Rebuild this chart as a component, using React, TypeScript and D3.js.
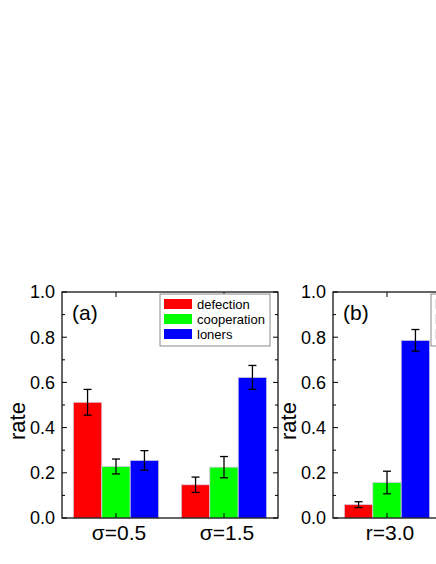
import React, { useRef, useEffect } from "react";
import * as d3 from "d3";

// values
const seriesNames = ["defection", "cooperation", "loners"];
const seriesColors = ["#ff0000", "#00ff00", "#0000ff"];

const categoriesA = ["σ=0.5", "σ=1.5"];
const defectionA = [0.512, 0.147];
const cooperationA = [0.228, 0.225];
const lonersA = [0.255, 0.622];
const defectionErrA = [0.057, 0.034];
const cooperationErrA = [0.033, 0.047];
const lonersErrA = [0.043, 0.053];

const categoriesB = ["r=3.0"];
const defectionB = [0.059];
const cooperationB = [0.157];
const lonersB = [0.786];
const defectionErrB = [0.013];
const cooperationErrB = [0.05];
const lonersErrB = [0.048];

const yTicks = [0, 0.2, 0.4, 0.6, 0.8, 1.0];
const yMinorTicks = [0.1, 0.3, 0.5, 0.7, 0.9];

const FONT = "'Liberation Sans', Arial, sans-serif";

const App = () => {
  const svgRef = useRef(null);

  useEffect(() => {
    const svg = d3.select(svgRef.current);
    svg.selectAll("*").remove();

    const top = 292;
    const bottom = 518;
    const plotW = 216;

    const y = d3.scaleLinear().domain([0, 1]).range([bottom, top]);

    const drawPanel = (opts) => {
      const { left, tag, categories, values, errors, faded } = opts;
      const g = svg.append("g");

      // two group slots per panel
      const x = d3
        .scaleBand()
        .domain(d3.range(2))
        .range([left, left + plotW])
        .paddingInner(0.21)
        .paddingOuter(0.105);
      const xs = d3.scaleBand().domain(d3.range(seriesNames.length)).range([0, x.bandwidth()]);

      // bars + error bars
      categories.forEach((cat, ci) => {
        seriesNames.forEach((s, si) => {
          const v = values[si][ci];
          const e = errors[si][ci];
          const bx = x(ci) + xs(si);
          g.append("rect")
            .attr("x", bx)
            .attr("y", y(v))
            .attr("width", xs.bandwidth())
            .attr("height", y(0) - y(v))
            .attr("fill", seriesColors[si])
            .attr("stroke", "#d4cce0")
            .attr("stroke-width", 0.8);
          const cx = bx + xs.bandwidth() / 2;
          g.append("line")
            .attr("x1", cx).attr("x2", cx)
            .attr("y1", y(v + e)).attr("y2", y(v - e))
            .attr("stroke", "#000").attr("stroke-width", 1.3);
          [v + e, v - e].forEach((t) => {
            g.append("line")
              .attr("x1", cx - 4).attr("x2", cx + 4)
              .attr("y1", y(t)).attr("y2", y(t))
              .attr("stroke", "#000").attr("stroke-width", 1.3);
          });
        });
      });

      // frame
      g.append("rect")
        .attr("x", left)
        .attr("y", top)
        .attr("width", plotW)
        .attr("height", bottom - top)
        .attr("fill", "none")
        .attr("stroke", "#000")
        .attr("stroke-width", 1.2);

      // y ticks, inward on left and right
      yTicks.forEach((t) => {
        g.append("line").attr("x1", left).attr("x2", left + 5).attr("y1", y(t)).attr("y2", y(t)).attr("stroke", "#000");
        g.append("line").attr("x1", left + plotW).attr("x2", left + plotW - 5).attr("y1", y(t)).attr("y2", y(t)).attr("stroke", "#000");
        g.append("text")
          .attr("x", left - 7)
          .attr("y", y(t))
          .attr("dy", "0.36em")
          .attr("text-anchor", "end")
          .attr("font-family", FONT)
          .attr("font-size", 18)
          .text(d3.format(".1f")(t));
      });
      yMinorTicks.forEach((t) => {
        g.append("line").attr("x1", left).attr("x2", left + 3).attr("y1", y(t)).attr("y2", y(t)).attr("stroke", "#000");
        g.append("line").attr("x1", left + plotW).attr("x2", left + plotW - 3).attr("y1", y(t)).attr("y2", y(t)).attr("stroke", "#000");
      });

      // x ticks + labels
      categories.forEach((cat, ci) => {
        const cx = x(ci) + x.bandwidth() / 2;
        g.append("line").attr("x1", cx).attr("x2", cx).attr("y1", bottom).attr("y2", bottom - 5).attr("stroke", "#000");
        g.append("line").attr("x1", cx).attr("x2", cx).attr("y1", top).attr("y2", top + 5).attr("stroke", "#000");
        g.append("text")
          .attr("x", cx + 3)
          .attr("y", 540)
          .attr("text-anchor", "middle")
          .attr("font-family", FONT)
          .attr("font-size", 21)
          .text(cat);
      });

      // y label
      g.append("text")
        .attr("transform", `translate(${left - 37}, 421) rotate(-90)`)
        .attr("text-anchor", "middle")
        .attr("font-family", FONT)
        .attr("font-size", 22)
        .text("rate");

      // panel tag
      g.append("text")
        .attr("x", left + 10)
        .attr("y", 320)
        .attr("font-family", FONT)
        .attr("font-size", 21)
        .text(tag);

      // legend (panel b's is greyed out and runs off the edge, only swatches show)
      const lx = left + 98;
      const ly = top + 2;
      g.append("rect")
        .attr("x", lx)
        .attr("y", ly)
        .attr("width", 110)
        .attr("height", 52)
        .attr("fill", "#fff")
        .attr("stroke", "#8a8a8a")
        .attr("stroke-width", 1);
      seriesNames.forEach((s, si) => {
        const ry = ly + 10 + si * 15;
        g.append("rect")
          .attr("x", lx + 4)
          .attr("y", ry - 5)
          .attr("width", 28)
          .attr("height", 10)
          .attr("fill", faded ? "#e2e2e2" : seriesColors[si]);
        if (!faded) {
          g.append("text")
            .attr("x", lx + 37)
            .attr("y", ry)
            .attr("dy", "0.35em")
            .attr("font-family", FONT)
            .attr("font-size", 13)
            .text(s);
        }
      });
    };

    drawPanel({
      left: 62,
      tag: "(a)",
      categories: categoriesA,
      values: [defectionA, cooperationA, lonersA],
      errors: [defectionErrA, cooperationErrA, lonersErrA],
      faded: false,
    });
    drawPanel({
      left: 333,
      tag: "(b)",
      categories: categoriesB,
      values: [defectionB, cooperationB, lonersB],
      errors: [defectionErrB, cooperationErrB, lonersErrB],
      faded: true,
    });
  }, []);

  return (
    <div style={{ position: "absolute", left: 0, top: 0, width: 436, height: 564, overflow: "hidden", background: "#fff" }}>
      <svg ref={svgRef} width={436} height={564}></svg>
    </div>
  );
};

export default App;
